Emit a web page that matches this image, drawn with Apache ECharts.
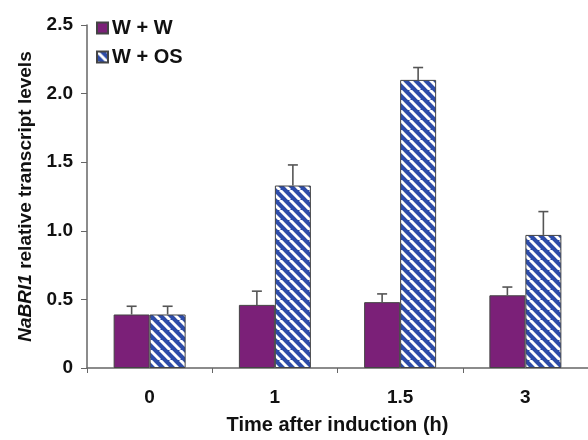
<!DOCTYPE html>
<html>
<head>
<meta charset="utf-8">
<script src="https://cdn.jsdelivr.net/npm/echarts@6/dist/echarts.min.js"></script>
<style>
  html, body { margin: 0; padding: 0; background: #fff; }
  #chart { width: 588px; height: 440px; }
</style>
</head>
<body>
<div id="chart"></div>
<script>
// data
var categories = ['0', '1', '1.5', '3'];
var wwMean = [0.39, 0.46, 0.48, 0.53];
var wwErr  = [0.06, 0.10, 0.06, 0.06];
var osMean = [0.39, 1.33, 2.10, 0.97];
var osErr  = [0.06, 0.15, 0.09, 0.17];

var BAR_W = 36;

// hatch tile for the W + OS bars
function makeHatch() {
    var s = 10;
    var c = document.createElement('canvas');
    c.width = s; c.height = s;
    var ctx = c.getContext('2d');
    ctx.fillStyle = '#2e4ca8';
    ctx.fillRect(0, 0, s, s);
    ctx.strokeStyle = '#ffffff';
    ctx.lineWidth = 3;
    for (var k = -1; k <= 1; k++) {
        ctx.beginPath();
        ctx.moveTo(k * s, 0);
        ctx.lineTo(k * s + s, s);
        ctx.stroke();
    }
    return c;
}
var hatch = { image: makeHatch(), repeat: 'repeat' };

function errSeries(mean, err, offset) {
    return {
        type: 'custom',
        silent: true,
        z: 3,
        data: mean.map(function (m, i) { return [i, m, m + err[i]]; }),
        renderItem: function (params, api) {
            var lo = api.coord([api.value(0), api.value(1)]);
            var hi = api.coord([api.value(0), api.value(2)]);
            var x = lo[0] + offset;
            var style = { stroke: '#555', lineWidth: 1.6 };
            return {
                type: 'group',
                children: [
                    { type: 'line', shape: { x1: x, y1: lo[1], x2: x, y2: hi[1] }, style: style },
                    { type: 'line', shape: { x1: x - 5, y1: hi[1], x2: x + 5, y2: hi[1] }, style: style }
                ]
            };
        }
    };
}

var font = 'Liberation Sans, Arial, sans-serif';

var option = {
    animation: false,
    grid: { left: 87, right: 0, top: 25, bottom: 72 },
    legend: {
        orient: 'vertical',
        left: 91,
        top: 13,
        icon: 'rect',
        itemWidth: 11,
        itemHeight: 11,
        itemGap: 9,
        data: ['W + W', 'W + OS'],
        textStyle: { fontFamily: font, fontWeight: 'bold', fontSize: 20, color: '#111', padding: [0, 0, 0, -1] }
    },
    xAxis: {
        type: 'category',
        data: categories,
        name: 'Time after induction (h)',
        nameLocation: 'middle',
        nameGap: 47,
        nameTextStyle: { fontFamily: font, fontWeight: 'bold', fontSize: 20, color: '#111' },
        axisLine: { lineStyle: { color: '#666', width: 1.5 } },
        axisTick: { show: true, length: 5, lineStyle: { color: '#666' } },
        axisLabel: { fontFamily: font, fontWeight: 'bold', fontSize: 19, color: '#111', margin: 20 }
    },
    yAxis: {
        type: 'value',
        min: 0,
        max: 2.5,
        interval: 0.5,
        name: '{it|NaBRI1} relative transcript levels',
        nameLocation: 'middle',
        nameGap: 52,
        nameTextStyle: {
            fontFamily: font, fontWeight: 'bold', fontSize: 19, color: '#111',
            rich: { it: { fontFamily: font, fontWeight: 'bold', fontStyle: 'italic', fontSize: 19, color: '#111' } }
        },
        splitLine: { show: false },
        axisLine: { show: true, lineStyle: { color: '#666', width: 1.5 } },
        axisTick: { show: true, length: 6, lineStyle: { color: '#666' } },
        axisLabel: {
            fontFamily: font, fontWeight: 'bold', fontSize: 19, color: '#111', margin: 14,
            formatter: function (v) { return v === 0 ? '0' : v.toFixed(1); }
        }
    },
    series: [
        {
            name: 'W + W',
            type: 'bar',
            data: wwMean,
            barWidth: BAR_W,
            barGap: '0%',
            itemStyle: { color: '#7b2078', borderColor: '#444', borderWidth: 1 }
        },
        {
            name: 'W + OS',
            type: 'bar',
            data: osMean,
            barWidth: BAR_W,
            barGap: '0%',
            itemStyle: { color: hatch, borderColor: '#444', borderWidth: 1 }
        },
        errSeries(wwMean, wwErr, -BAR_W / 2),
        errSeries(osMean, osErr, BAR_W / 2)
    ]
};

var myChart = echarts.init(document.getElementById('chart'));
myChart.setOption(option);
</script>
</body>
</html>
